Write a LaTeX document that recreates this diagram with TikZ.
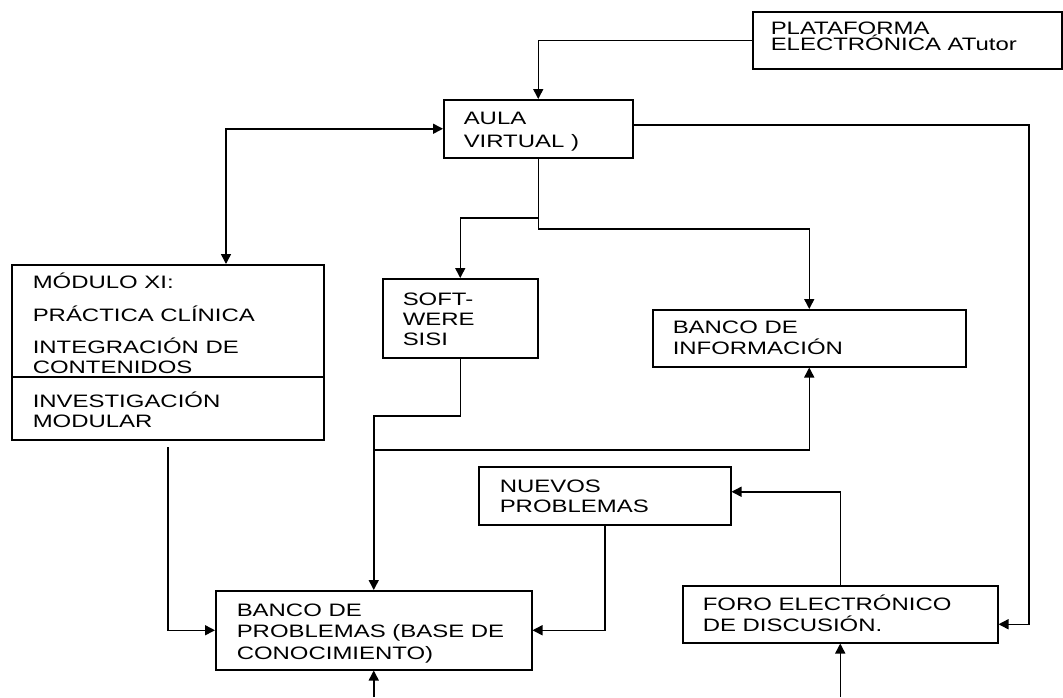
\documentclass[tikz,border=0pt]{standalone}
\usepackage{fontspec}
\setmainfont{Liberation Sans}[FakeStretch=1.33]
\usetikzlibrary{arrows.meta}

\begin{document}
\begin{tikzpicture}[x=1pt,y=-1pt,
  line width=1.5pt,
  arr/.style={-{Triangle[length=10pt,width=10pt]}},
  darr/.style={{Triangle[length=10pt,width=10pt]}-{Triangle[length=10pt,width=10pt]}},
  box/.style={draw,inner sep=0pt,anchor=north west},
  % multi-line labels are placed by the baseline of their last line
  txt/.style={anchor=base west,inner sep=0pt,align=left,
    font=\fontsize{18}{#1}\selectfont},
  txt/.default=21pt]
\useasboundingbox (0,0) rectangle (1063,697);

% boxes
\node[box,minimum width=309pt,minimum height=57pt] (plat)   at (752,11)  {};
\node[box,minimum width=189pt,minimum height=58pt] (aula)   at (443,99)  {};
\node[box,minimum width=312pt,minimum height=175pt] (modulo) at (11,264) {};
\node[box,minimum width=155pt,minimum height=79pt] (soft)   at (382,278) {};
\node[box,minimum width=313pt,minimum height=57pt] (binfo)  at (652,309) {};
\node[box,minimum width=252pt,minimum height=58pt] (nuevos) at (478,466) {};
\node[box,minimum width=316pt,minimum height=79pt] (bprob)  at (215,590) {};
\node[box,minimum width=315pt,minimum height=57pt] (foro)   at (682,585) {};

% divider inside the module box
\draw ([yshift=-113pt]modulo.north west) -- ([yshift=-113pt]modulo.north east);

% texts
\node[txt=16pt] (tplat) at (770,50) {PLATAFORMA\\ELECTRÓNICA ATutor};
\node[txt=23pt] (taula) at (463,147) {AULA\\VIRTUAL )};
\node[txt=20pt] (tmod) at (32,427) {MÓDULO XI:\\[13pt]PRÁCTICA CLÍNICA\\[12pt]INTEGRACIÓN DE\\CONTENIDOS\\[14pt]INVESTIGACIÓN\\MODULAR};
\node[txt=20pt] (tsoft) at (402,345) {SOFT-\\WERE\\SISI};
\node[txt=21pt] (tbinfo) at (672,354) {BANCO DE\\INFORMACIÓN};
\node[txt=20pt] (tnuevos) at (499,512) {NUEVOS\\PROBLEMAS};
\node[txt=21.5pt] (tbprob) at (236,659) {BANCO DE\\PROBLEMAS (BASE DE\\CONOCIMIENTO)};
\node[txt=21pt] (tforo) at (702,631) {FORO ELECTRÓNICO\\DE DISCUSIÓN.};

% routing coordinates
\coordinate (jsoft) at (0,218);
\coordinate (jinfo) at (0,229);
\coordinate (jsb)   at (0,416);
\coordinate (jib)   at (0,450);
\coordinate (rr)    at (1029,0);
\coordinate (bottomedge) at (0,697);
\coordinate (mstart) at (168,447);
\coordinate (foroin) at ([yshift=-10pt]foro.east);
\coordinate (aulaout) at ([yshift=4pt]aula.east);
\coordinate (nuevosin) at ([yshift=4pt]nuevos.east);
\coordinate (modin) at ([xshift=215pt]modulo.north west);

% connectors
\draw[arr] (plat.west) -| (aula.north);
\draw[darr] (aula.west) -| (modin);
\draw[arr] (aula.south) -- (aula.south |- jsoft) -| (soft.north);
\draw[arr] (aula.south |- jsoft) -- (aula.south |- jinfo) -| (binfo.north);
\draw[arr] (aulaout) -| (foroin -| rr) -- (foroin);
\draw[arr] (soft.south) -- (soft.south |- jsb) -| (bprob.north);
\draw[arr] (bprob.north |- jib) -| (binfo.south);
\draw[arr] (mstart) |- (bprob.west);
\draw[arr] (nuevos.south) |- (bprob.east);
\draw[arr] (foro.north) |- (nuevosin);
\draw[arr] (bprob.south |- bottomedge) -- (bprob.south);
\draw[arr] (foro.south |- bottomedge) -- (foro.south);
\end{tikzpicture}
\end{document}
